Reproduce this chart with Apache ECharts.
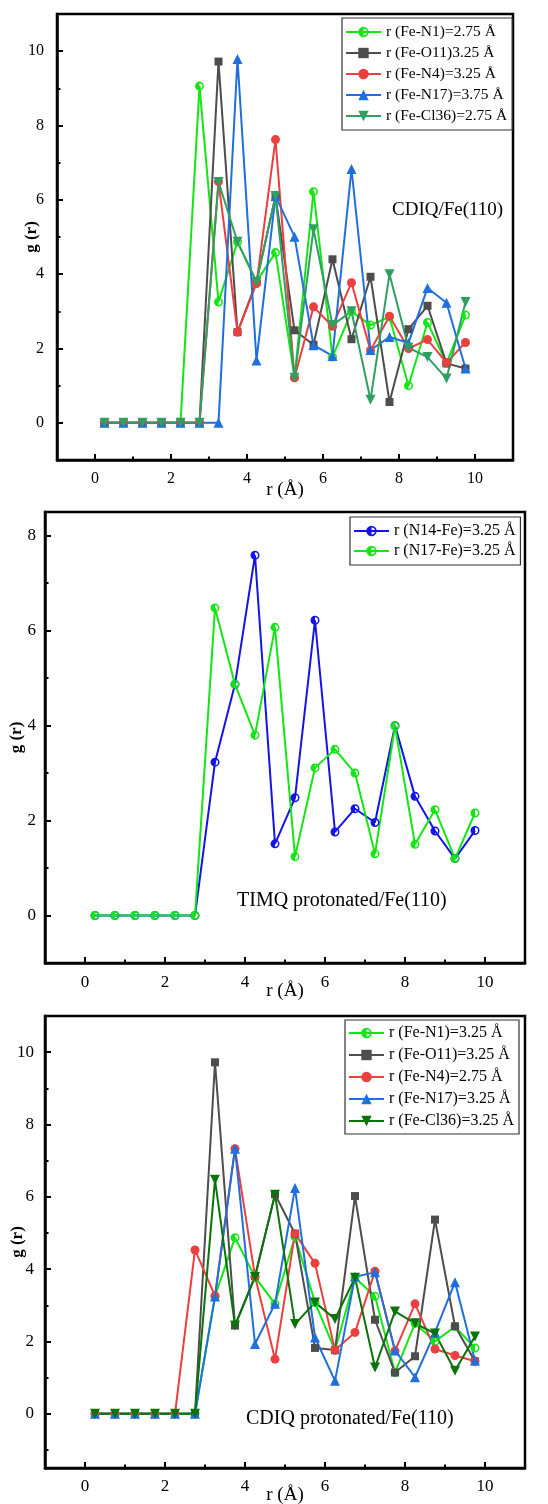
<!DOCTYPE html>
<html><head><meta charset="utf-8">
<script src="https://cdn.jsdelivr.net/npm/echarts@6/dist/echarts.min.js"></script>
<style>html,body{margin:0;padding:0;background:#fff}#c{width:548px;height:1504px}</style>
</head><body><div id="c"></div>
<script>
// ---------- data ----------
const rValues = [0.25,0.75,1.25,1.75,2.25,2.75,3.25,3.75,4.25,4.75,5.25,5.75,6.25,6.75,7.25,7.75,8.25,8.75,9.25,9.75];
const xTickLabels = [0,2,4,6,8,10];
const xMinorTicks = [1,3,5,7,9];
const y1TickLabels = [0,2,4,6,8,10];
const y1MinorTicks = [1,3,5,7,9];
const y2TickLabels = [0,2,4,6,8];
const y2MinorTicks = [1,3,5,7];
const y3TickLabels = [0,2,4,6,8,10];
const y3MinorTicks = [-1,1,3,5,7,9];

// Panel 1: CDIQ/Fe(110)
const p1Names = ['r (Fe-N1)=2.75 Å','r (Fe-O11)3.25 Å','r (Fe-N4)=3.25 Å','r (Fe-N17)=3.75 Å','r (Fe-Cl36)=2.75 Å'];
const p1FeN1  = [0,0,0,0,0,9.06,3.25,4.87,3.8,4.58,1.22,6.22,1.77,3.0,2.63,2.85,1.0,2.7,1.6,2.9];
const p1FeO11 = [0,0,0,0,0,0,9.72,2.44,3.8,6.1,2.49,2.1,4.4,2.25,3.93,0.56,2.52,3.15,1.6,1.46];
const p1FeN4  = [0,0,0,0,0,0,6.49,2.44,3.75,7.62,1.21,3.12,2.6,3.77,1.95,2.87,2.0,2.24,1.62,2.16];
const p1FeN17 = [0,0,0,0,0,0,0,9.79,1.68,6.1,5.01,2.09,1.8,6.83,1.96,2.31,2.15,3.63,3.23,1.46];
const p1FeCl36= [0,0,0,0,0,0,6.48,4.87,3.79,6.1,1.21,5.21,2.63,3.0,0.62,4.0,2.02,1.77,1.19,3.25];

// Panel 2: TIMQ protonated/Fe(110)
const p2Names = ['r (N14-Fe)=3.25 Å','r (N17-Fe)=3.25 Å'];
const p2N14Fe = [0,0,0,0,0,0,3.23,4.87,7.59,1.51,2.48,6.22,1.76,2.25,1.96,4.0,2.51,1.78,1.2,1.79];
const p2N17Fe = [0,0,0,0,0,0,6.48,4.87,3.8,6.07,1.24,3.11,3.5,3.0,1.3,3.99,1.5,2.23,1.2,2.16];

// Panel 3: CDIQ protonated/Fe(110)
const p3Names = ['r (Fe-N1)=3.25 Å','r (Fe-O11)=3.25 Å','r (Fe-N4)=2.75 Å','r (Fe-N17)=3.25 Å','r (Fe-Cl36)=3.25 Å'];
const p3FeN1  = [0,0,0,0,0,0,3.25,4.87,3.78,3.04,4.9,3.08,1.75,3.76,3.25,1.14,2.5,2.0,2.41,1.82];
const p3FeO11 = [0,0,0,0,0,0,9.72,2.44,3.8,6.07,4.98,1.82,1.76,6.02,2.6,1.14,1.59,5.37,2.42,1.45];
const p3FeN4  = [0,0,0,0,0,4.53,3.26,7.33,3.8,1.51,4.98,4.16,1.76,2.25,3.94,1.74,3.04,1.79,1.61,1.45];
const p3FeN17 = [0,0,0,0,0,0,3.24,7.33,1.93,3.04,6.24,2.11,0.91,3.79,3.91,1.75,1.01,2.25,3.64,1.47];
const p3FeCl36= [0,0,0,0,0,0,6.47,2.44,3.78,6.06,2.48,3.08,2.62,3.76,1.28,2.83,2.5,2.22,1.19,2.14];

// ---------- styling ----------
const FONT = '"Liberation Serif","DejaVu Serif",serif';
const HALF = 'path://M0,10A10,10,0,1,1,20,10A10,10,0,1,1,0,10ZM3.4,10A6.6,6.6,0,1,0,16.6,10A6.6,6.6,0,1,0,3.4,10ZM10,3.4A6.6,6.6,0,0,0,10,16.6Z';
const DOWN = 'path://M0,0L10,0L5,8.7Z';
const C = {lime:'#14e614', gray:'#4d4d4d', red:'#ec3f3f', blue:'#1f6fdc', teal:'#2f9f62', dblue:'#1414e6', dgreen:'#0a740a'};

function pairs(ys){ return ys.map((y,i)=>[rValues[i], y]); }

function mainX(gi, margin, gap, fs){
  return {type:'value', gridIndex:gi, min:-1, max:11, position:'bottom',
    axisLine:{show:true, onZero:false, lineStyle:{color:'#000', width:2.5}},
    axisTick:{show:true, inside:true, length:6, lineStyle:{color:'#000', width:2}, customValues:xTickLabels},
    axisLabel:{customValues:xTickLabels, color:'#000', fontFamily:FONT, fontSize:fs, margin:margin},
    splitLine:{show:false},
    name:'r (Å)', nameLocation:'middle', nameGap:gap, nameMoveOverlap:false,
    nameTextStyle:{color:'#000', fontFamily:FONT, fontSize:19}};
}
function minorX(gi){
  return {type:'value', gridIndex:gi, min:-1, max:11, position:'bottom', offset:0,
    axisLine:{show:false, onZero:false},
    axisTick:{show:true, inside:true, length:3.5, lineStyle:{color:'#000', width:2}, customValues:xMinorTicks},
    axisLabel:{show:false}, splitLine:{show:false}};
}
function mainY(gi, min, max, labels, margin, gap, fs){
  return {type:'value', gridIndex:gi, min:min, max:max, position:'left',
    axisLine:{show:true, onZero:false, lineStyle:{color:'#000', width:2.5}},
    axisTick:{show:true, inside:true, length:6, lineStyle:{color:'#000', width:2}, customValues:labels},
    axisLabel:{customValues:labels, color:'#000', fontFamily:FONT, fontSize:fs, margin:margin},
    splitLine:{show:false},
    name:'g (r)', nameLocation:'middle', nameGap:gap, nameMoveOverlap:false,
    nameTextStyle:{color:'#000', fontFamily:FONT, fontSize:17, fontWeight:'bold'}};
}
function minorY(gi, min, max, ticks){
  return {type:'value', gridIndex:gi, min:min, max:max, position:'left', offset:0,
    axisLine:{show:false, onZero:false},
    axisTick:{show:true, inside:true, length:3.5, lineStyle:{color:'#000', width:2}, customValues:ticks},
    axisLabel:{show:false}, splitLine:{show:false}};
}
function ser(name, ys, gi, color, symbol, size){
  return {type:'line', name:name, xAxisIndex:gi, yAxisIndex:gi, data:pairs(ys),
    symbol:symbol, symbolSize:size, showSymbol:true,
    lineStyle:{color:color, width:2}, itemStyle:{color:color}};
}
function legend(names, left, top, pad, gap, fs){
  return {data:names, orient:'vertical', left:left, top:top, padding:pad, itemGap:gap,
    itemWidth:35, itemHeight:13, backgroundColor:'#fff',
    borderColor:'#333', borderWidth:1.2, borderRadius:0,
    textStyle:{color:'#000', fontFamily:FONT, fontSize:fs, lineHeight:16}};
}

const option = {
  animation:false,
  backgroundColor:'#fff',
  textStyle:{fontFamily:FONT},
  grid:[
    {left:57, top:14, width:456, height:446, show:true, borderColor:'#000', borderWidth:2.5, outerBoundsMode:'none', containLabel:false},
    {left:45, top:512, width:480, height:451, show:true, borderColor:'#000', borderWidth:2.5, outerBoundsMode:'none', containLabel:false},
    {left:45, top:1016, width:480, height:452, show:true, borderColor:'#000', borderWidth:2.5, outerBoundsMode:'none', containLabel:false}
  ],
  xAxis:[ mainX(0, 11, 21, 16), mainX(1, 11, 19, 17), mainX(2, 10, 18, 17), minorX(0), minorX(1), minorX(2) ],
  yAxis:[
    mainY(0, -1, 11, y1TickLabels, 13, 17, 16),
    mainY(1, -1, 8.5, y2TickLabels, 9, 20, 17),
    mainY(2, -1.5, 11, y3TickLabels, 11, 19, 17),
    minorY(0, -1, 11, y1MinorTicks),
    minorY(1, -1, 8.5, y2MinorTicks),
    minorY(2, -1.5, 11, y3MinorTicks)
  ],
  legend:[
    legend(p1Names, 342, 18, [6,5,6,3], 5, 15.5),
    legend(p2Names, 350, 517, [6,5,6,3], 4, 16),
    legend(p3Names, 345, 1020, [5,5,5,3], 6, 16)
  ],
  graphic:[
    {type:'text', left:392, top:201, style:{text:'CDIQ/Fe(110)', fill:'#000', font:'19px '+FONT}},
    {type:'text', left:237, top:891, style:{text:'TIMQ protonated/Fe(110)', fill:'#000', font:'20px '+FONT}},
    {type:'text', left:246, top:1409, style:{text:'CDIQ protonated/Fe(110)', fill:'#000', font:'20px '+FONT}}
  ],
  series:[
    ser(p1Names[0], p1FeN1, 0, C.lime, HALF, 9),
    ser(p1Names[1], p1FeO11, 0, C.gray, 'rect', 8),
    ser(p1Names[2], p1FeN4, 0, C.red, 'circle', 9),
    ser(p1Names[3], p1FeN17, 0, C.blue, 'triangle', 10),
    ser(p1Names[4], p1FeCl36, 0, C.teal, DOWN, 10),
    ser(p2Names[0], p2N14Fe, 1, C.dblue, HALF, 9),
    ser(p2Names[1], p2N17Fe, 1, C.lime, HALF, 9),
    ser(p3Names[0], p3FeN1, 2, C.lime, HALF, 9),
    ser(p3Names[1], p3FeO11, 2, C.gray, 'rect', 8),
    ser(p3Names[2], p3FeN4, 2, C.red, 'circle', 9),
    ser(p3Names[3], p3FeN17, 2, C.blue, 'triangle', 10),
    ser(p3Names[4], p3FeCl36, 2, C.dgreen, DOWN, 10)
  ]
};
const chart = echarts.init(document.getElementById('c'), null, {renderer:'canvas'});
chart.setOption(option);
</script>
</body></html>
